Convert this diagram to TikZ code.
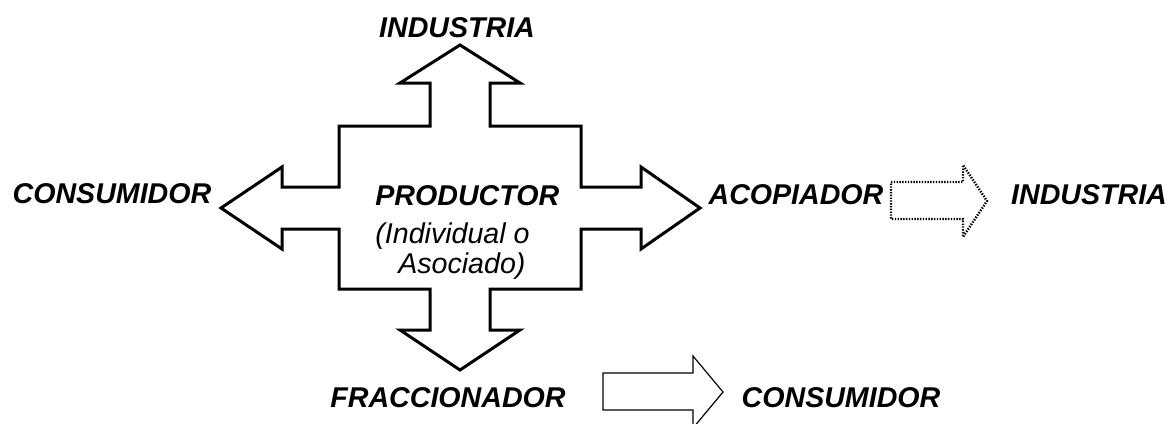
\documentclass[tikz,border=0pt]{standalone}
\usepackage{fontspec}
\setmainfont{Liberation Sans}
\usetikzlibrary{positioning}

\begin{document}
\begin{tikzpicture}[x=0.5pt, y=-0.5pt,
  lbl/.style={font=\fontsize{14.3}{15}\selectfont\bfseries\itshape, inner sep=0pt},
  sublbl/.style={font=\fontsize{14.3}{15}\selectfont\itshape, inner sep=0pt},
  block/.style={draw, line width=1.5pt, line join=miter},
  thinblock/.style={draw, line width=0.6pt},
  dotblock/.style={draw, line width=1.2pt, dash pattern=on 0.7pt off 0.7pt}]
  \clip (0,0) rectangle (1171,423);
  \draw[block] (460,45) -- (520,83) -- (490,83) -- (490,126) -- (581,126) -- (581,187)
    -- (641,187) -- (641,167) -- (700,208) -- (641,249) -- (641,229) -- (581,229)
    -- (581,289) -- (490,289) -- (490,330) -- (520,330) -- (460,370) -- (400,330)
    -- (430,330) -- (430,289) -- (339,289) -- (339,229) -- (282,229) -- (282,249)
    -- (221,208) -- (282,167) -- (282,187) -- (339,187) -- (339,126) -- (430,126)
    -- (430,83) -- (400,83) -- cycle;
  \node[lbl] (indtop) at (457,28) {INDUSTRIA};
  \node[lbl] (consleft) at (112,194) {CONSUMIDOR};
  \node[lbl] (acop) at (796,195) {ACOPIADOR};
  \node[lbl] (indright) at (1089,195) {INDUSTRIA};
  \node[lbl] (frac) at (448,398) {FRACCIONADOR};
  \node[lbl] (consbot) at (841,398) {CONSUMIDOR};
  \node[sublbl, align=left, anchor=north west] (prod) at (375,185)
    {\textbf{PRODUCTOR}\\[4pt](Individual o\\\hspace*{0.8em}Asociado)};
  \draw[dotblock] (891,182) -- (963,182) -- (963,165) -- (987,201) -- (963,237)
    -- (963,219) -- (891,219) -- cycle;
  \draw[thinblock] (603,373) -- (693,373) -- (693,356) -- (723,392) -- (693,428)
    -- (693,410) -- (603,410) -- cycle;
\end{tikzpicture}
\end{document}
